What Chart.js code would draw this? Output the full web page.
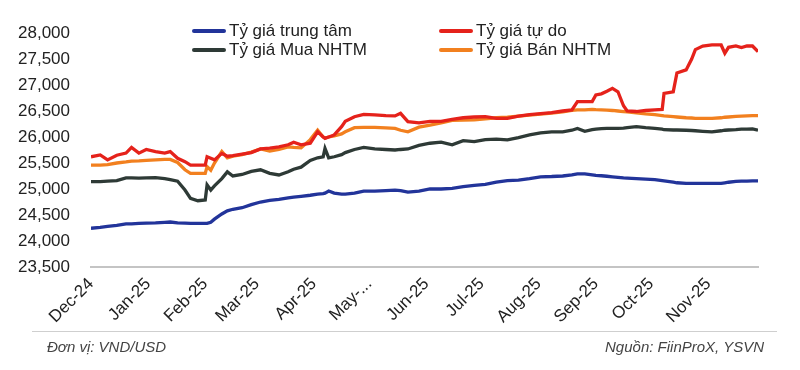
<!DOCTYPE html>
<html>
<head>
<meta charset="utf-8">
<script src="https://cdn.jsdelivr.net/npm/chart.js@4.4.1/dist/chart.umd.min.js"></script>
<style>
  html, body { margin: 0; padding: 0; background: #fff; }
  #wrap { position: relative; width: 800px; height: 370px; font-family: "Liberation Sans", Arial, sans-serif; }
  #chart { position: absolute; left: 0; top: 0; }
  .leg { position: absolute; display: flex; align-items: center; font-size: 17px; color: #222; white-space: nowrap; }
  .leg i { display: inline-block; width: 34px; height: 4px; margin-right: 3px; border-radius: 2px; }
  .foot { position: absolute; top: 338px; font-size: 15px; font-style: italic; color: #444; }
  #rule { position: absolute; left: 32px; top: 331px; width: 745px; height: 1px; background: #cfcfcf; }
</style>
</head>
<body>
<div id="wrap">
  <canvas id="chart" width="800" height="370"></canvas>
  <div id="legend"></div>
  <div id="rule"></div>
  <div class="foot" style="left:47px">Đơn vị: VND/USD</div>
  <div class="foot" style="right:36px">Nguồn: FiinProX, YSVN</div>
</div>
<script>
// ---- data (days counted from 1 Dec 2024) ----
const days = [0, 5, 9, 14, 19, 22, 26, 30, 35, 40, 43, 47, 51, 54, 58, 62, 63, 65, 67, 71,
  74, 77, 82, 87, 92, 97, 102, 107, 110, 114, 119, 123, 126, 127, 129, 132, 136, 138, 143, 148,
  154, 160, 165, 168, 172, 178, 184, 190, 196, 202, 208, 214, 220, 226, 232, 238, 244, 250, 256, 261,
  264, 268, 272, 274, 277, 280, 283, 286, 289, 291, 296, 301, 306, 310, 311, 316, 318, 323, 326, 328,
  332, 337, 342, 344, 346, 350, 353, 356, 359, 362];

const centralRate = [24245, 24260, 24280, 24300, 24330, 24330, 24340, 24345, 24350, 24360, 24365, 24350, 24345, 24340, 24340, 24340, 24340, 24360, 24420, 24520,
  24580, 24610, 24640, 24700, 24750, 24780, 24800, 24830, 24845, 24860, 24880, 24900, 24910, 24920, 24960, 24920, 24900, 24900, 24920, 24960,
  24960, 24970, 24980, 24970, 24940, 24960, 25000, 25000, 25010, 25045, 25070, 25090, 25130, 25160, 25170, 25200, 25235, 25240, 25250, 25270,
  25290, 25290, 25270, 25260, 25255, 25245, 25235, 25225, 25215, 25210, 25200, 25190, 25180, 25160, 25155, 25130, 25120, 25110, 25110, 25110,
  25110, 25110, 25110, 25120, 25130, 25145, 25150, 25150, 25155, 25155];

const freeRate = [25620, 25655, 25560, 25650, 25690, 25800, 25690, 25760, 25720, 25690, 25720, 25590, 25525, 25460, 25460, 25460, 25620, 25590, 25560, 25685,
  25630, 25640, 25670, 25700, 25770, 25785, 25810, 25850, 25900, 25850, 25880, 26100, 26000, 25975, 26000, 26040, 26200, 26300, 26390, 26435,
  26425, 26410, 26405, 26455, 26295, 26270, 26300, 26300, 26340, 26370, 26385, 26390, 26360, 26360, 26400, 26430, 26450, 26470, 26500, 26520,
  26680, 26680, 26680, 26810, 26830, 26880, 26935, 26870, 26600, 26500, 26490, 26510, 26520, 26530, 26840, 26870, 27230, 27290, 27500, 27680,
  27750, 27770, 27770, 27610, 27725, 27750, 27720, 27750, 27750, 27640];

const bankBuy = [25140, 25140, 25150, 25160, 25215, 25215, 25210, 25215, 25220, 25200, 25180, 25150, 24980, 24820, 24775, 24790, 25080, 24980, 25060, 25200,
  25330, 25250, 25280, 25340, 25370, 25300, 25270, 25330, 25380, 25420, 25550, 25600, 25620, 25780, 25600, 25620, 25660, 25700, 25760, 25800,
  25770, 25760, 25750, 25760, 25770, 25840, 25880, 25900, 25850, 25930, 25910, 25950, 25960, 25945, 25990, 26040, 26080, 26100, 26100, 26130,
  26165, 26110, 26140, 26150, 26160, 26165, 26165, 26165, 26170, 26180, 26200, 26180, 26165, 26150, 26140, 26135, 26135, 26130, 26125, 26120,
  26110, 26100, 26120, 26130, 26135, 26140, 26150, 26150, 26155, 26130];

const bankSell = [25460, 25460, 25470, 25500, 25520, 25535, 25540, 25550, 25560, 25570, 25570, 25510, 25370, 25300, 25300, 25300, 25430, 25360, 25500, 25720,
  25600, 25630, 25660, 25710, 25770, 25730, 25760, 25810, 25800, 25790, 25950, 26130, 26000, 25980, 26000, 26020, 26060, 26100, 26180, 26185,
  26185, 26175, 26165, 26130, 26100, 26190, 26230, 26270, 26320, 26325, 26330, 26350, 26370, 26380, 26400, 26420, 26440, 26460, 26485, 26510,
  26520, 26520, 26530, 26525, 26520, 26515, 26510, 26500, 26490, 26485, 26465, 26445, 26430, 26410, 26405, 26390, 26385, 26370, 26365, 26360,
  26360, 26360, 26370, 26380, 26385, 26395, 26400, 26405, 26410, 26410];

const monthStarts = [0, 31, 62, 90, 121, 151, 182, 212, 243, 274, 304, 335];
const monthLabels = ['Dec-24', 'Jan-25', 'Feb-25', 'Mar-25', 'Apr-25', 'May-...', 'Jun-25',
  'Jul-25', 'Aug-25', 'Sep-25', 'Oct-25', 'Nov-25'];

const yTicks = [23500, 24000, 24500, 25000, 25500, 26000, 26500, 27000, 27500, 28000];

const seriesInfo = [
  { label: 'Tỷ giá trung tâm', values: centralRate, color: '#22349a' },
  { label: 'Tỷ giá tự do', values: freeRate, color: '#e5221b' },
  { label: 'Tỷ giá Mua NHTM', values: bankBuy, color: '#2e3a36' },
  { label: 'Tỷ giá Bán NHTM', values: bankSell, color: '#f2801f' }
];

// legend laid out as in the source (2 x 2)
const legendPos = [[192, 21], [439, 21], [192, 40], [439, 40]];
const legendBox = document.getElementById('legend');
seriesInfo.forEach((s, i) => {
  const el = document.createElement('div');
  el.className = 'leg';
  el.style.left = legendPos[i][0] + 'px';
  el.style.top = legendPos[i][1] + 'px';
  el.innerHTML = `<i style="background:${s.color}"></i>${s.label}`;
  legendBox.appendChild(el);
});

// draw order: orange under red, then gray, blue
const drawOrder = [3, 1, 2, 0];

const datasets = seriesInfo.map((s, i) => ({
  label: s.label,
  data: days.map((d, k) => ({ x: d, y: s.values[k] })),
  borderColor: s.color,
  backgroundColor: s.color,
  borderWidth: 3.3,
  pointRadius: 0,
  tension: 0,
  order: drawOrder.indexOf(i) * -1
}));

const font = { family: '"Liberation Sans", Arial, sans-serif', size: 17 };

new Chart(document.getElementById('chart').getContext('2d'), {
  type: 'line',
  data: { datasets: datasets },
  options: {
    responsive: false,
    animation: false,
    layout: { padding: { left: 0, right: 42, top: 33, bottom: 0 } },
    plugins: {
      legend: { display: false },
      tooltip: { enabled: false }
    },
    scales: {
      x: {
        type: 'linear',
        min: 0,
        max: 362,
        grid: { display: false, drawTicks: false },
        border: { display: true, color: '#c4c4c4', width: 2 },
        afterBuildTicks: axis => { axis.ticks = monthStarts.map(v => ({ value: v })); },
        afterFit: axis => { axis.height = 103; },
        ticks: {
          autoSkip: false,
          minRotation: 45,
          maxRotation: 45,
          padding: 7,
          color: '#222',
          font: font,
          callback: (value, index) => monthLabels[index]
        }
      },
      y: {
        min: 23500,
        max: 28000,
        grid: { display: false, drawTicks: false },
        border: { display: false },
        afterBuildTicks: axis => { axis.ticks = yTicks.map(v => ({ value: v })); },
        afterFit: axis => { axis.width = 91; },
        ticks: {
          padding: 21,
          color: '#222',
          font: font,
          callback: value => value.toLocaleString('en-US')
        }
      }
    }
  }
});
</script>
</body>
</html>
